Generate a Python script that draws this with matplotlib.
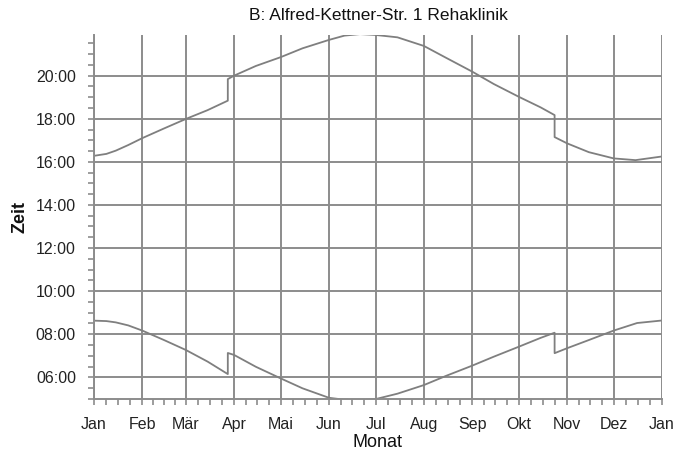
import matplotlib.pyplot as plt
import numpy as np

plt.rcParams["font.family"] = ["Liberation Sans", "DejaVu Sans"]

TITLE = "B: Alfred-Kettner-Str. 1 Rehaklinik"
MONTHS = ["Jan", "Feb", "Mär", "Apr", "Mai", "Jun", "Jul", "Aug", "Sep", "Okt", "Nov", "Dez", "Jan"]
MONTH_START = [0, 31, 59, 90, 120, 151, 181, 212, 243, 273, 304, 334, 365]

# day of year, decimal hours (DST jumps as doubled days)
SUNSET_DAY = [0, 8, 14, 22, 31, 45, 59, 73, 86, 86, 90, 104, 120, 134, 151, 161, 171,
              181, 195, 212, 226, 243, 257, 273, 287, 296, 296, 304, 318, 334, 348, 364]
SUNSET_H = [16.28, 16.37, 16.52, 16.78, 17.10, 17.55, 17.99, 18.40, 18.84, 19.84, 20.00,
            20.45, 20.86, 21.27, 21.66, 21.86, 21.93, 21.89, 21.78, 21.38, 20.84, 20.19,
            19.61, 19.02, 18.53, 18.17, 17.15, 16.86, 16.45, 16.16, 16.08, 16.24]

SUNRISE_DAY = [0, 8, 14, 22, 31, 45, 59, 73, 86, 86, 90, 104, 120, 134, 151, 161, 171,
               181, 195, 212, 226, 243, 257, 273, 287, 296, 296, 304, 318, 334, 349, 364]
SUNRISE_H = [8.63, 8.61, 8.55, 8.41, 8.17, 7.73, 7.27, 6.73, 6.15, 7.13, 7.04, 6.49, 5.95,
             5.49, 5.05, 4.96, 4.93, 4.99, 5.24, 5.64, 6.06, 6.54, 6.96, 7.42, 7.83, 8.07,
             7.12, 7.35, 7.73, 8.17, 8.52, 8.63]

GRAY = "#8c8c8c"
LINE = "#7f7f7f"

fig = plt.figure(figsize=(6.91, 4.54), dpi=100)
ax = fig.add_axes([0.136, 0.1205, 0.822, 0.8025])

ax.plot(SUNSET_DAY, SUNSET_H, color=LINE, lw=1.3)
ax.plot(SUNRISE_DAY, SUNRISE_H, color=LINE, lw=1.3)

ax.set_xlim(0, 365)
ax.set_ylim(4.98, 21.89)

ax.set_xticks(MONTH_START)
ax.set_xticklabels(MONTHS)
minor_x = []
for a, b in zip(MONTH_START[:-1], MONTH_START[1:]):
    minor_x += [a + (b - a) * k / 4 for k in (1, 2, 3)]
ax.set_xticks(minor_x, minor=True)

yt = np.arange(6, 22, 2)
ax.set_yticks(yt)
ax.set_yticklabels([f"{int(h):02d}:00" for h in yt])
ax.set_yticks(np.arange(5, 22, 0.5), minor=True)

ax.grid(True, which="major", color=GRAY, lw=1.4)
ax.set_axisbelow(True)

for s in ("top", "right"):
    ax.spines[s].set_visible(False)
for s in ("left", "bottom"):
    ax.spines[s].set_color(GRAY)
    ax.spines[s].set_linewidth(1.4)

ax.tick_params(which="both", direction="out", color=GRAY, width=1.2)
ax.tick_params(which="major", length=4, labelsize=11.5, labelcolor="#222222")
ax.tick_params(which="minor", length=4)
ax.tick_params(axis="x", which="major", pad=9)
ax.tick_params(axis="y", which="major", pad=9)

ax.set_title(TITLE, fontsize=12.5, pad=11, color="#111111")
ax.set_xlabel("Monat", fontsize=13, labelpad=1, color="#111111")
ax.set_ylabel("Zeit", fontsize=13, fontweight="bold", labelpad=5, color="#111111")

fig.savefig("out.png", dpi=100)
